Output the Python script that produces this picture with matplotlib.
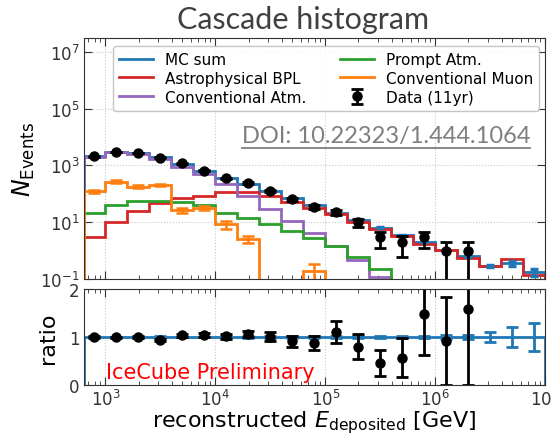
import numpy as np
import matplotlib.pyplot as plt
import matplotlib.ticker as ticker
from matplotlib.lines import Line2D

# energy bins: 5 per decade, 10^2.8 .. 10^7 GeV
edges = 10 ** np.round(np.arange(2.8, 7.01, 0.2), 1)
centers = np.sqrt(edges[:-1] * edges[1:])

# event counts per bin
data = np.array([2070, 3000, 2700, 1900, 1180, 660, 355, 240, 129, 64, 35, 23,
                 10, 3, 2, 3, 1, 1, 0, 0, 0], dtype=float)
mc_sum = np.array([2080, 3030, 2680, 2020, 1140, 630, 350, 225, 128, 70, 40, 21,
                   12.5, 6.4, 3.5, 2.04, 1.09, 0.63, 0.29, 0.37, 0.18])
mc_err = np.array([20, 30, 27, 40, 11, 6, 4, 4, 2.6, 2.1, 1.2, 0.4, 0.36, 0.19,
                   0.1, 0.06, 0.04, 0.03, 0.03, 0.08, 0.054])
astro_bpl = np.array([3.0, 10.5, 24, 47, 69, 86, 118, 112, 86, 52, 31, 19, 10,
                      5.6, 3.2, 1.75, 1.05, 0.56, 0.28, 0.51, 0.14])
conv_atm = np.array([1990, 2850, 2500, 1750, 870, 490, 220, 86, 30, 11, 4.1,
                     1.45, 0.49, 0.12, 0.02, 0.01, 0.005, 0.002, 0.001, 0.001, 0.001])
prompt_atm = np.array([21, 42, 54, 55, 50, 41, 21, 14, 9, 4.8, 2.75, 1.45, 0.59,
                       0.23, 0.05, 0.02, 0.01, 0.005, 0.002, 0.001, 0.001])
conv_muon = np.array([125, 270, 177, 204, 27, 31, 8.5, 2.6, 0, 0, 0.2, 0, 0, 0,
                      0, 0, 0, 0, 0, 0, 0])
conv_muon_err = np.array([15, 25, 20, 22, 5, 5, 2.5, 0.8, 0, 0, 0.15, 0, 0, 0,
                          0, 0, 0, 0, 0, 0, 0])

c_blue, c_red, c_purple = "#1f77b4", "#d62728", "#9467bd"
c_green, c_orange = "#2ca02c", "#ff7f0e"

plt.rcParams["font.size"] = 12

fig = plt.figure(figsize=(5.53, 4.35), dpi=100)
ax = fig.add_axes([0.151, 0.356, 0.835, 0.554])
ax2 = fig.add_axes([0.151, 0.1126, 0.835, 0.2207])

lw = 2.0
ax.stairs(mc_sum, edges, color=c_blue, lw=lw, label="MC sum")
ax.errorbar(centers, mc_sum, yerr=mc_err, fmt="none", ecolor=c_blue,
            elinewidth=2.5, capsize=3, capthick=2.5)
ax.stairs(astro_bpl, edges, color=c_red, lw=lw, label="Astrophysical BPL")
ax.stairs(conv_atm, edges, color=c_purple, lw=lw, label="Conventional Atm.")
ax.stairs(prompt_atm, edges, color=c_green, lw=lw, label="Prompt Atm.")
ax.stairs(conv_muon, edges, color=c_orange, lw=lw, label="Conventional Muon")
has_mu = conv_muon > 0
ax.errorbar(centers[has_mu], conv_muon[has_mu], yerr=conv_muon_err[has_mu],
            fmt="none", ecolor=c_orange, elinewidth=1.8, capsize=4, capthick=1.8)

has_data = data > 0
ax.errorbar(centers[has_data], data[has_data], yerr=np.sqrt(data[has_data]),
            fmt="o", color="black", ms=6.5, elinewidth=2, capsize=4, capthick=2,
            label="Data (11yr)")

ax.set_xscale("log")
ax.set_yscale("log")
ax.set_xlim(edges[0], edges[-1])
ax.set_ylim(0.1, 3e7)
ax.yaxis.set_major_locator(ticker.FixedLocator([1e-1, 1e1, 1e3, 1e5, 1e7]))
ax.yaxis.set_minor_locator(ticker.NullLocator())
ax.tick_params(labelbottom=False)
ax.set_ylabel(r"$N_{\rm Events}$", fontsize=17, labelpad=2)

handles, labels = ax.get_legend_handles_labels()
order = [labels.index(n) for n in ["MC sum", "Astrophysical BPL", "Conventional Atm.",
                                    "Prompt Atm.", "Conventional Muon", "Data (11yr)"]]
ax.legend([handles[i] for i in order], [labels[i] for i in order], ncol=2,
          loc="upper left", bbox_to_anchor=(0.064, 0.968), borderaxespad=0,
          fontsize=11, handlelength=2.2, columnspacing=2.2, labelspacing=0.25,
          framealpha=0.85, edgecolor="#bbbbbb", fancybox=True)

doi = ax.text(0.655, 0.594, "DOI: 10.22323/1.444.1064", transform=ax.transAxes,
              ha="center", va="center", fontsize=17, color="#7f7f7f",
              family="Lato")

# ratio panel
ax2.stairs(mc_sum / mc_sum, edges, color=c_blue, lw=lw)
ax2.errorbar(centers, mc_sum / mc_sum, yerr=mc_err / mc_sum, fmt="none",
             ecolor=c_blue, elinewidth=2, capsize=4, capthick=2)
ax2.errorbar(centers[has_data], data[has_data] / mc_sum[has_data],
             yerr=np.sqrt(data[has_data]) / mc_sum[has_data], fmt="o",
             color="black", ms=6.5, elinewidth=2, capsize=4, capthick=2)
ax2.set_xscale("log")
ax2.set_xlim(edges[0], edges[-1])
ax2.set_ylim(0, 2)
ax2.set_yticks([0, 1, 2])
ax2.set_ylabel("ratio", fontsize=16, labelpad=8)
ax2.set_xlabel(r"reconstructed $E_{\rm deposited}$ [GeV]", fontsize=16,
               labelpad=-1)
ax2.text(0.049, 0.03, "IceCube Preliminary", transform=ax2.transAxes,
         color="red", fontsize=15, ha="left", va="bottom")

for a in (ax, ax2):
    a.tick_params(which="both", direction="in", top=True, right=True,
                  labelsize=12, colors="#333333", pad=3)
    a.tick_params(which="major", length=6)
    a.tick_params(which="minor", length=3)
    a.grid(which="major", ls=":", color="#c8c8c8", lw=0.8)
    a.set_axisbelow(True)
    for s in a.spines.values():
        s.set_color("#333333")
ax2.xaxis.set_major_locator(ticker.LogLocator(base=10, numticks=10))

fig.text(0.548, 0.954, "Cascade histogram", ha="center", va="center",
         fontsize=22, color="#404040", family="Lato")

# underline the DOI
fig.canvas.draw()
bb = doi.get_window_extent().transformed(ax.transAxes.inverted())
ax.add_line(Line2D([bb.x0, bb.x1], [bb.y0 - 0.005, bb.y0 - 0.005],
                   transform=ax.transAxes, color="#7f7f7f", lw=1.3))

fig.savefig("out.png", dpi=100)
